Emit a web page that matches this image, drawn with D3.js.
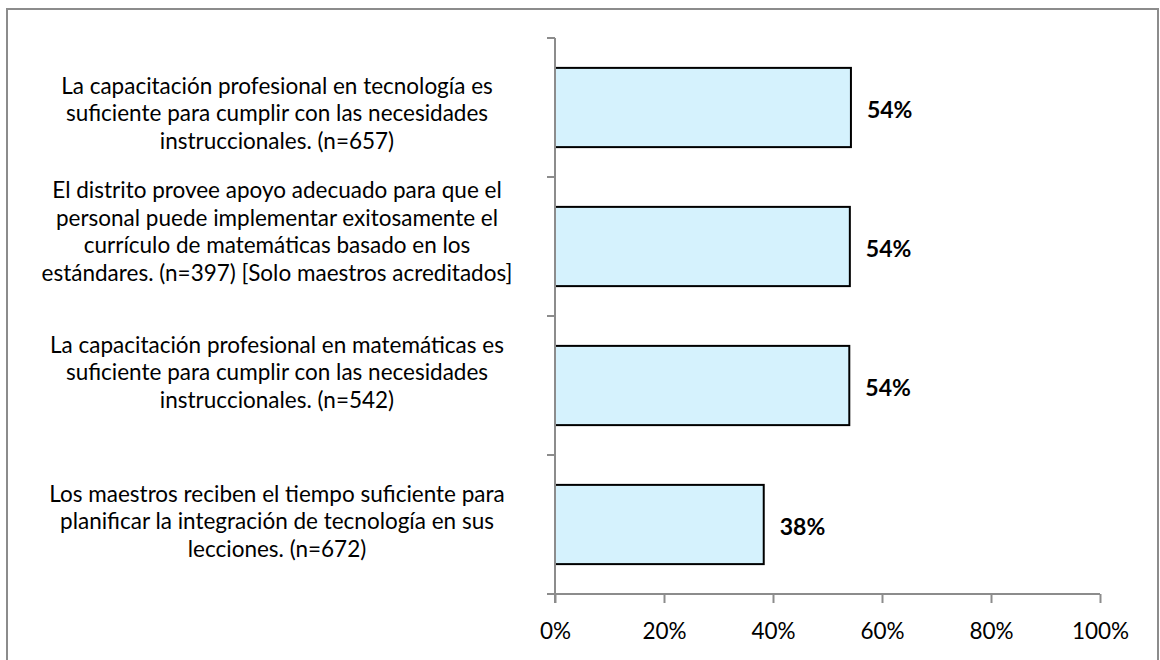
<!DOCTYPE html>
<html>
<head>
<meta charset="utf-8">
<script src="https://cdn.jsdelivr.net/npm/d3@7/dist/d3.min.js"></script>
<style>
  html, body { margin: 0; padding: 0; background: #fff; }
  svg { display: block; }
  text { font-family: "Lato", "Open Sans", sans-serif; fill: #000; }
</style>
</head>
<body>
<svg id="chart" width="1160" height="660"></svg>
<script>
// ---- data ----
const categories = [
  "La capacitación profesional en tecnología es|suficiente para cumplir con las necesidades|instruccionales. (n=657)",
  "El distrito provee apoyo adecuado para que el|personal puede implementar exitosamente el|currículo de matemáticas basado en los|estándares. (n=397) [Solo maestros acreditados]",
  "La capacitación profesional en matemáticas es|suficiente para cumplir con las necesidades|instruccionales. (n=542)",
  "Los maestros reciben el tiempo suficiente para|planificar la integración de tecnología en sus|lecciones. (n=672)"
];
const values = [54.3, 54.1, 54.0, 38.3];
const valueLabels = ["54%", "54%", "54%", "38%"];
const tickValues = [0, 20, 40, 60, 80, 100];
const tickLabels = ["0%", "20%", "40%", "60%", "80%", "100%"];

// ---- layout ----
const svg = d3.select("#chart");
const plot = { left: 555, right: 1100, top: 38, bottom: 594 };
const labelCenterX = 277;
const lineHeight = 27.6;
const labelShift = [6, -15, -13, -3]; // label block vertical nudge vs band centre

// outer frame
svg.append("rect")
  .attr("x", 7).attr("y", 9)
  .attr("width", 1151).attr("height", 700)
  .attr("fill", "none").attr("stroke", "#8c8c8c").attr("stroke-width", 2);

const x = d3.scaleLinear().domain([0, 100]).range([plot.left, plot.right]);
const y = d3.scaleBand().domain(categories).range([plot.top, plot.bottom])
  .paddingInner(0.43).paddingOuter(0.215);

const axisColor = "#8c8c8c";

// bars
svg.append("g").selectAll("rect").data(categories).join("rect")
  .attr("x", x(0))
  .attr("y", d => y(d))
  .attr("width", (d, i) => x(values[i]) - x(0))
  .attr("height", y.bandwidth())
  .attr("fill", "#d5f2fd")
  .attr("stroke", "#000")
  .attr("stroke-width", 2);

// x axis
const xAxis = svg.append("g").attr("transform", `translate(0,${plot.bottom})`)
  .call(d3.axisBottom(x).tickValues(tickValues).tickSize(9).tickSizeOuter(0)
        .tickFormat((d, i) => tickLabels[i]));
xAxis.select(".domain").attr("stroke", axisColor).attr("stroke-width", 2)
  .attr("d", `M${plot.left - 8},0H${plot.right}`);
xAxis.selectAll(".tick line").attr("stroke", axisColor).attr("stroke-width", 2);
xAxis.selectAll(".tick text")
  .attr("y", 37).attr("dy", "0.35em")
  .style("font-size", "22.5px").style("font-family", "Lato, 'Open Sans', sans-serif")
  .attr("fill", "#000");

// y axis (category boundaries as ticks)
const boundaries = d3.range(categories.length + 1).map(i => plot.top + i * y.step());
svg.append("line")
  .attr("x1", plot.left).attr("x2", plot.left)
  .attr("y1", plot.top).attr("y2", plot.bottom + 9)
  .attr("stroke", axisColor).attr("stroke-width", 2);
svg.append("g").selectAll("line").data(boundaries.slice(0, -1)).join("line")
  .attr("x1", plot.left - 8).attr("x2", plot.left)
  .attr("y1", d => d).attr("y2", d => d)
  .attr("stroke", axisColor).attr("stroke-width", 2);

// category labels
categories.forEach((c, i) => {
  const lines = c.split("|");
  const cy = y(c) + y.bandwidth() / 2 + labelShift[i];
  const startY = cy - (lines.length - 1) * lineHeight / 2;
  const t = svg.append("text")
    .attr("text-anchor", "middle")
    .style("font-size", "22.5px");
  lines.forEach((ln, j) => {
    t.append("tspan").attr("x", labelCenterX).attr("y", startY + j * lineHeight)
      .attr("dy", "0.35em").text(ln);
  });
});

// value labels
svg.append("g").selectAll("text").data(categories).join("text")
  .attr("x", (d, i) => x(values[i]) + 16)
  .attr("y", d => y(d) + y.bandwidth() / 2 + 2)
  .attr("dy", "0.35em")
  .style("font-size", "23px").style("font-weight", "bold")
  .text((d, i) => valueLabels[i]);
</script>
</body>
</html>
